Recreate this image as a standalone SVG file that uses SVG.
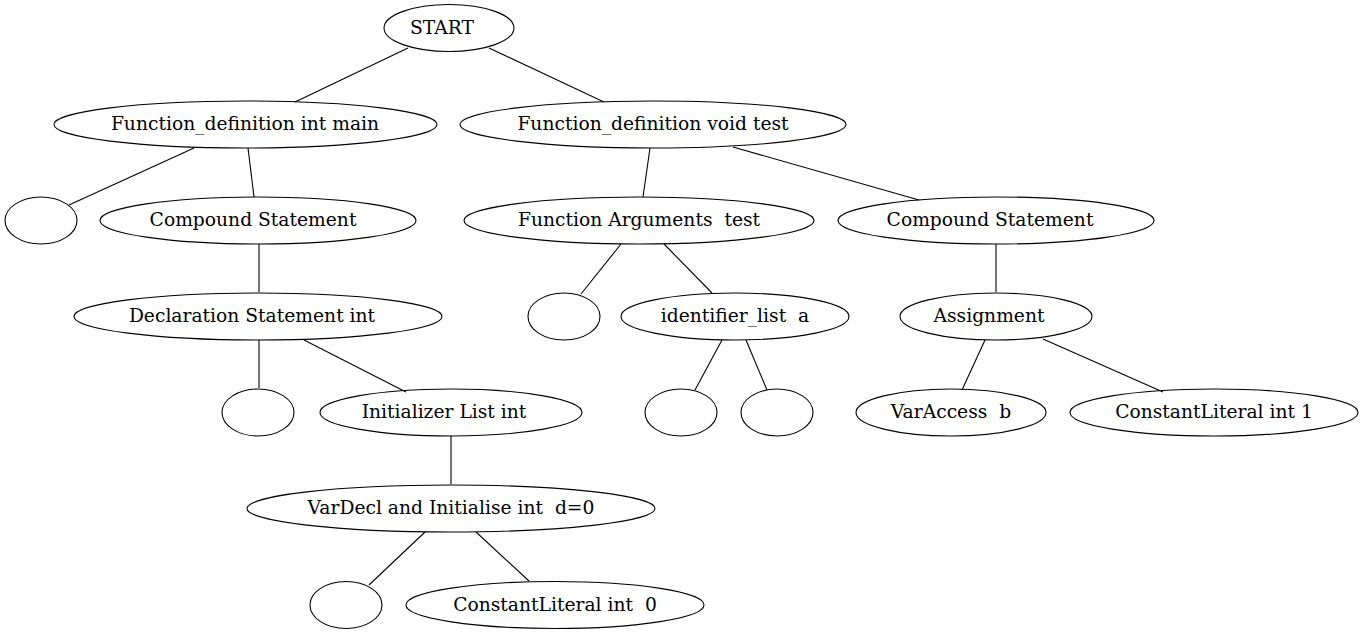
<svg xmlns="http://www.w3.org/2000/svg" width="1365" height="635" viewBox="0 0 1365 635">
<style>
ellipse{fill:none;stroke:#000;stroke-width:1.1}
text{font-family:"DejaVu Serif","Liberation Serif",serif;font-size:18.7px;text-anchor:middle;fill:#000;white-space:pre}
#edges line{stroke:#000;stroke-width:1.1}
</style>
<rect width="1365" height="635" fill="#fff"/>
<g id="edges">
<line x1="408" y1="48" x2="295" y2="102"/>
<line x1="489" y1="48" x2="604" y2="102"/>
<line x1="194" y1="148" x2="69" y2="205"/>
<line x1="248" y1="148" x2="254" y2="197"/>
<line x1="259" y1="244" x2="259" y2="292"/>
<line x1="259" y1="340" x2="259" y2="388"/>
<line x1="304" y1="340" x2="406" y2="392"/>
<line x1="451" y1="436" x2="451" y2="484"/>
<line x1="425" y1="532" x2="369" y2="585"/>
<line x1="476" y1="532" x2="529" y2="581"/>
<line x1="650" y1="148" x2="643" y2="197"/>
<line x1="733" y1="147" x2="919" y2="200"/>
<line x1="621" y1="244" x2="581" y2="294"/>
<line x1="664" y1="244" x2="712" y2="293"/>
<line x1="722" y1="340" x2="695" y2="390"/>
<line x1="746" y1="340" x2="767" y2="390"/>
<line x1="996" y1="244" x2="996" y2="292"/>
<line x1="985" y1="340" x2="962" y2="390"/>
<line x1="1043" y1="339" x2="1163" y2="392"/>
</g>
<g id="n_start"><ellipse cx="449" cy="28" rx="65" ry="23.5"/><text x="442" y="34">START</text></g>
<g id="n_main"><ellipse cx="245.5" cy="124.5" rx="191.5" ry="23.5"/><text x="245" y="130">Function_definition int main</text></g>
<g id="n_test"><ellipse cx="653" cy="124.5" rx="193" ry="23.5"/><text x="653" y="130">Function_definition void test</text></g>
<g id="n_e1"><ellipse cx="41" cy="220.5" rx="36" ry="23.5"/></g>
<g id="n_cs1"><ellipse cx="258" cy="220.5" rx="158" ry="23.5"/><text x="253" y="226">Compound Statement</text></g>
<g id="n_decl"><ellipse cx="258" cy="316.5" rx="184" ry="23.5"/><text x="252" y="322">Declaration Statement int</text></g>
<g id="n_e2"><ellipse cx="258" cy="412.5" rx="36" ry="23.5"/></g>
<g id="n_init"><ellipse cx="451" cy="412.5" rx="131" ry="23.5"/><text x="444" y="418">Initializer List int</text></g>
<g id="n_vardecl"><ellipse cx="451" cy="508.5" rx="204" ry="23.5"/><text x="451" y="514">VarDecl and Initialise int  d=0</text></g>
<g id="n_e3"><ellipse cx="346" cy="605" rx="36" ry="23.5"/></g>
<g id="n_cl0"><ellipse cx="555" cy="605" rx="149" ry="23.5"/><text x="555" y="611">ConstantLiteral int  0</text></g>
<g id="n_fa"><ellipse cx="639" cy="220.5" rx="175" ry="23.5"/><text x="639" y="226">Function Arguments  test</text></g>
<g id="n_cs2"><ellipse cx="996" cy="220.5" rx="158" ry="23.5"/><text x="990" y="226">Compound Statement</text></g>
<g id="n_e4"><ellipse cx="564" cy="316.5" rx="36" ry="23.5"/></g>
<g id="n_idl"><ellipse cx="735" cy="316.5" rx="114" ry="23.5"/><text x="735" y="322">identifier_list  a</text></g>
<g id="n_e5"><ellipse cx="681" cy="412.5" rx="36" ry="23.5"/></g>
<g id="n_e6"><ellipse cx="777" cy="412.5" rx="36" ry="23.5"/></g>
<g id="n_assign"><ellipse cx="996" cy="316.5" rx="96" ry="23.5"/><text x="989" y="322">Assignment</text></g>
<g id="n_va"><ellipse cx="951" cy="412.5" rx="95" ry="23.5"/><text x="951" y="418">VarAccess  b</text></g>
<g id="n_cl1"><ellipse cx="1214" cy="412.5" rx="144" ry="23.5"/><text x="1214" y="418">ConstantLiteral int 1</text></g>
</svg>
